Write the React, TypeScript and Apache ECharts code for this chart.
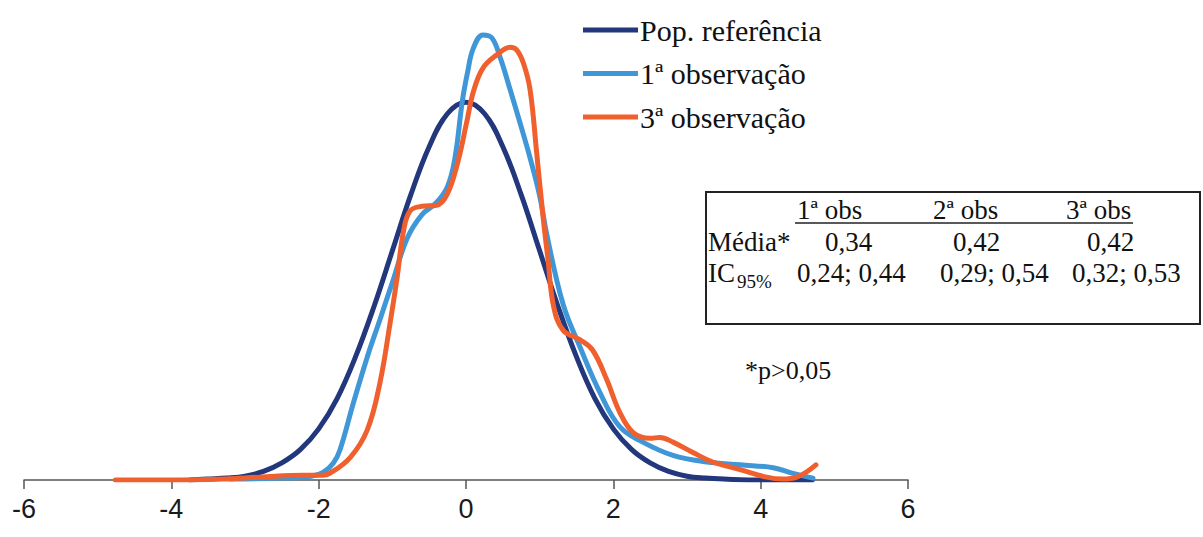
import React, { useEffect, useRef } from "react";
import * as echarts from "echarts";

// Density curves (x = z-score, y = density)
const popX = [-3.75, -3.5, -3.25, -3, -2.75, -2.5, -2.25, -2, -1.75, -1.5, -1.25, -1, -0.75, -0.5, -0.25, 0, 0.25, 0.5, 0.75, 1, 1.25, 1.5, 1.75, 2, 2.25, 2.5, 2.75, 3, 3.25, 3.5, 4, 4.7];
const popY = [0.0, 0.001, 0.002, 0.004, 0.009, 0.018, 0.032, 0.054, 0.086, 0.13, 0.183, 0.242, 0.301, 0.352, 0.387, 0.399, 0.387, 0.352, 0.301, 0.242, 0.183, 0.13, 0.086, 0.054, 0.032, 0.018, 0.009, 0.004, 0.002, 0.001, 0.0, 0.0];

const obs1X = [-3.2, -2.5, -2.1, -1.94, -1.8, -1.71, -1.53, -1.34, -1.17, -0.99, -0.8, -0.6, -0.4, -0.25, -0.15, -0.05, 0.02, 0.1, 0.23, 0.35, 0.46, 0.6, 0.73, 0.87, 1.0, 1.1, 1.32, 1.55, 1.82, 2.09, 2.4, 2.81, 3.27, 3.72, 4.17, 4.44, 4.71];
const obs1Y = [0.001, 0.002, 0.004, 0.008, 0.018, 0.032, 0.081, 0.13, 0.169, 0.211, 0.255, 0.28, 0.293, 0.31, 0.34, 0.4, 0.43, 0.456, 0.47, 0.467, 0.447, 0.412, 0.378, 0.34, 0.3, 0.258, 0.185, 0.14, 0.092, 0.056, 0.04, 0.026, 0.019, 0.016, 0.013, 0.007, 0.002];

const obs3X = [-4.76, -4.0, -3.3, -2.8, -2.2, -1.95, -1.85, -1.57, -1.34, -1.17, -1.03, -0.94, -0.85, -0.76, -0.6, -0.4, -0.26, -0.12, 0.01, 0.1, 0.23, 0.42, 0.6, 0.69, 0.78, 0.87, 0.96, 1.05, 1.11, 1.19, 1.32, 1.55, 1.72, 1.91, 2.09, 2.27, 2.5, 2.63, 2.81, 3.08, 3.35, 3.72, 4.08, 4.3, 4.49, 4.75];
const obs3Y = [0.0, 0.0, 0.001, 0.003, 0.005, 0.005, 0.007, 0.024, 0.053, 0.102, 0.166, 0.211, 0.262, 0.284, 0.289, 0.29, 0.301, 0.333, 0.378, 0.41, 0.435, 0.449, 0.457, 0.454, 0.44, 0.412, 0.345, 0.275, 0.235, 0.183, 0.158, 0.148, 0.137, 0.106, 0.071, 0.05, 0.044, 0.045, 0.04, 0.029, 0.019, 0.011, 0.003, 0.001, 0.003, 0.016];

const seriesNames = ["Pop. referência", "1ª observação", "3ª observação"];
const seriesColors = ["#22377c", "#3f97d8", "#f0602e"];

// Summary table
const tableHeaders = ["1ª obs", "2ª obs", "3ª obs"];
const meanValues = ["0,34", "0,42", "0,42"];
const ciValues = ["0,24; 0,44", "0,29; 0,54", "0,32; 0,53"];
const footnote = "*p>0,05";

const xTicks = { min: -6, max: 6, interval: 2 };

const zip = (xs: number[], ys: number[]) => xs.map((x, i) => [x, ys[i]]);

export default function App() {
  const ref = useRef<HTMLDivElement>(null);

  useEffect(() => {
    if (!ref.current) return;
    const chart = echarts.init(ref.current, null, { renderer: "svg" });
    const serif = "Liberation Serif";
    const tFont = { fontFamily: serif, fontSize: 27, fill: "#111" };

    const tableText = (text: string, x: number, y: number, extra: any = {}) => ({
      type: "text",
      x,
      y,
      style: { text, ...tFont, verticalAlign: "middle", align: "left", ...extra },
    });

    const headerX = [797, 933, 1066];
    const meanX = [825, 953, 1087];
    const ciX = [797, 940, 1072];

    const graphics: any[] = [
      {
        type: "rect",
        shape: { x: 706, y: 192, width: 494, height: 132 },
        style: { fill: "none", stroke: "#222", lineWidth: 2 },
      },
      {
        type: "line",
        shape: { x1: 795, y1: 223, x2: 1133, y2: 223 },
        style: { stroke: "#222", lineWidth: 1.5 },
      },
      ...tableHeaders.map((t, i) => tableText(t, headerX[i], 210)),
      tableText("Média*", 708, 242),
      ...meanValues.map((t, i) => tableText(t, meanX[i], 242)),
      tableText("IC", 708, 273),
      tableText("95%", 737, 281, { fontSize: 19 }),
      ...ciValues.map((t, i) => tableText(t, ciX[i], 273)),
      tableText(footnote, 745, 370, { fontSize: 26 }),
    ];

    const data = [zip(popX, popY), zip(obs1X, obs1Y), zip(obs3X, obs3Y)];

    chart.setOption({
      animation: false,
      backgroundColor: "#ffffff",
      grid: { left: 24, right: 295, top: 6.5, bottom: 57, containLabel: false },
      legend: {
        orient: "vertical",
        left: 583,
        top: 15,
        padding: 0,
        itemWidth: 55,
        itemHeight: 5,
        itemGap: 13.5,
        icon: "rect",
        data: seriesNames,
        textStyle: { fontFamily: serif, fontSize: 30, lineHeight: 30, color: "#111", padding: [0, 0, 0, -3] },
      },
      xAxis: {
        type: "value",
        min: xTicks.min,
        max: xTicks.max,
        interval: xTicks.interval,
        axisLine: { show: true, onZero: false, lineStyle: { color: "#555", width: 1.5 } },
        axisTick: { show: true, inside: false, length: 9, lineStyle: { color: "#555", width: 1.5 } },
        axisLabel: {
          fontFamily: "Liberation Sans",
          fontSize: 27,
          color: "#1a1a1a",
          margin: 15,
        },
        splitLine: { show: false },
      },
      yAxis: { type: "value", min: 0, max: 0.5, show: false },
      series: seriesNames.map((name, i) => ({
        name,
        type: "line",
        data: data[i],
        smooth: 0.4,
        symbol: "none",
        lineStyle: { color: seriesColors[i], width: 5, cap: "round", join: "round" },
        itemStyle: { color: seriesColors[i] },
        z: 2 + i,
      })),
      graphic: graphics,
    });

    return () => chart.dispose();
  }, []);

  return (
    <div
      ref={ref}
      style={{ position: "fixed", left: 0, top: 0, width: 1203, height: 537, background: "#fff" }}
    />
  );
}
